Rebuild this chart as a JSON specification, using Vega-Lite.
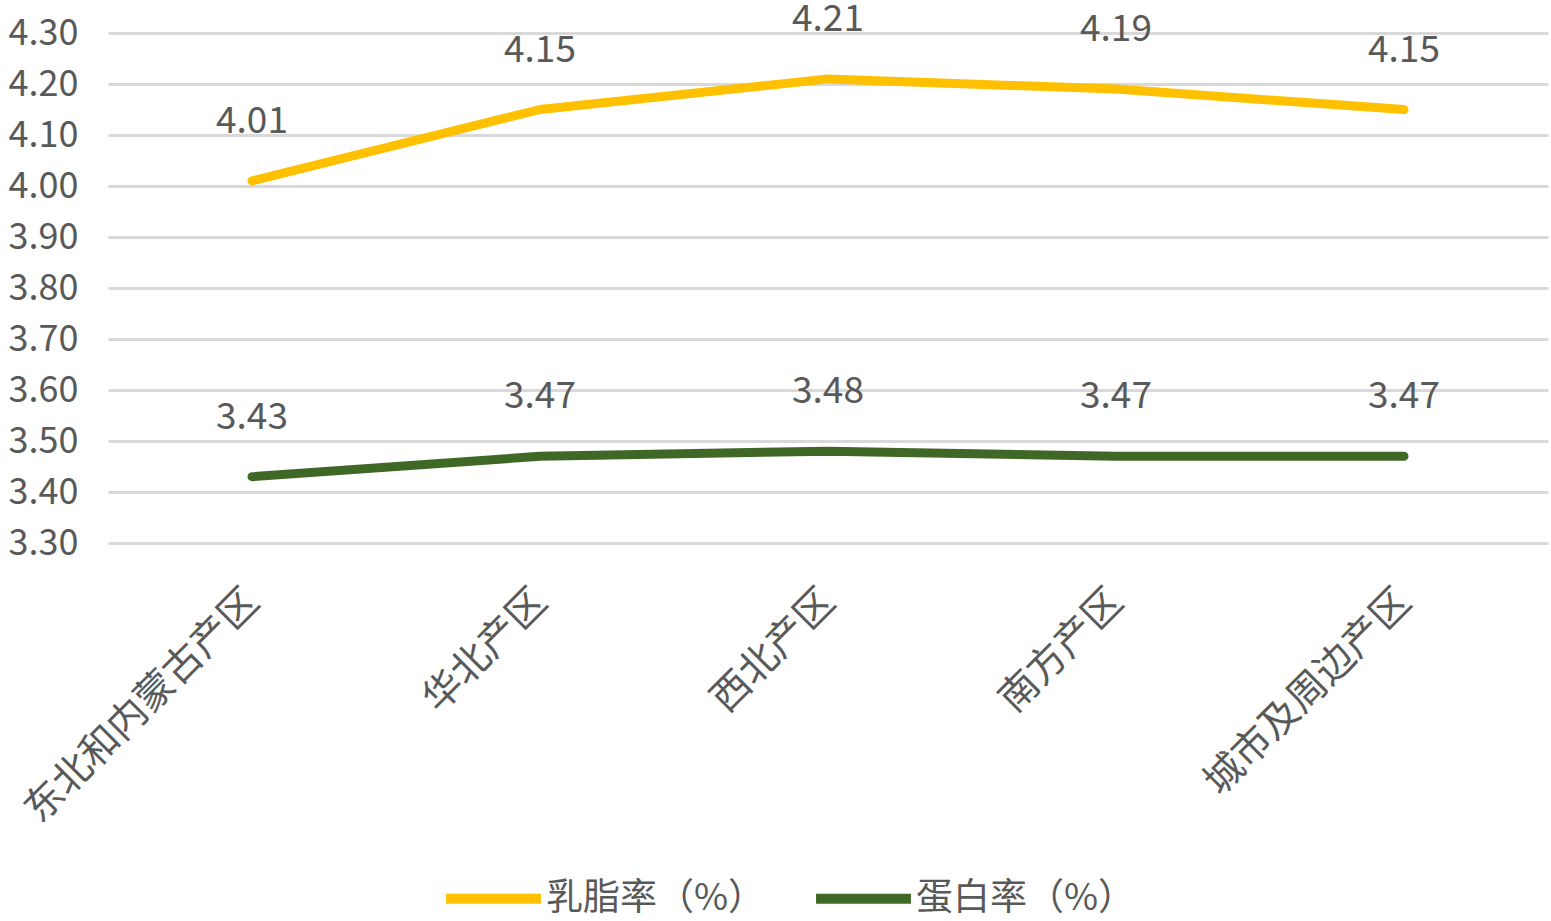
{
  "$schema": "https://vega.github.io/schema/vega-lite/v6.json",
  "width": 1440,
  "height": 510,
  "autosize": {"type": "none"},
  "padding": {"left": 108, "top": 33, "right": 3, "bottom": 378},
  "background": "white",
  "config": {
    "view": {"stroke": null},
    "font": "Noto Sans CJK SC"
  },
  "data": {
    "values": [
      {"region": "东北和内蒙古产区", "metric": "乳脂率（%）", "value": 4.01},
      {"region": "华北产区", "metric": "乳脂率（%）", "value": 4.15},
      {"region": "西北产区", "metric": "乳脂率（%）", "value": 4.21},
      {"region": "南方产区", "metric": "乳脂率（%）", "value": 4.19},
      {"region": "城市及周边产区", "metric": "乳脂率（%）", "value": 4.15},
      {"region": "东北和内蒙古产区", "metric": "蛋白率（%）", "value": 3.43},
      {"region": "华北产区", "metric": "蛋白率（%）", "value": 3.47},
      {"region": "西北产区", "metric": "蛋白率（%）", "value": 3.48},
      {"region": "南方产区", "metric": "蛋白率（%）", "value": 3.47},
      {"region": "城市及周边产区", "metric": "蛋白率（%）", "value": 3.47}
    ]
  },
  "encoding": {
    "x": {
      "field": "region",
      "type": "nominal",
      "sort": ["东北和内蒙古产区", "华北产区", "西北产区", "南方产区", "城市及周边产区"],
      "scale": {"type": "point", "padding": 0.5},
      "axis": {
        "title": null,
        "domain": false,
        "ticks": false,
        "labelAngle": -45,
        "labelAlign": "right",
        "labelBaseline": "middle",
        "labelPadding": 52,
        "labelFontSize": 39,
        "labelLimit": 0,
        "labelColor": "#595959",
        "labelFont": "Noto Sans CJK SC"
      }
    },
    "y": {
      "field": "value",
      "type": "quantitative",
      "scale": {"domain": [3.3, 4.3], "nice": false, "zero": false},
      "axis": {
        "title": null,
        "domain": false,
        "ticks": false,
        "values": [3.3, 3.4, 3.5, 3.6, 3.7, 3.8, 3.9, 4.0, 4.1, 4.2, 4.3],
        "format": ".2f",
        "labelFontSize": 36,
        "labelColor": "#595959",
        "labelPadding": 30,
        "gridColor": "#D9D9D9",
        "gridWidth": 3
      }
    }
  },
  "layer": [
    {
      "mark": {"type": "line", "strokeWidth": 9, "strokeCap": "round", "strokeJoin": "round"},
      "encoding": {
        "color": {
          "field": "metric",
          "type": "nominal",
          "scale": {"domain": ["乳脂率（%）", "蛋白率（%）"], "range": ["#FFC000", "#3F6826"]},
          "legend": {
            "title": null,
            "orient": "none",
            "direction": "horizontal",
            "legendX": 333,
            "legendY": 813,
            "symbolType": "stroke",
            "symbolSize": 9000,
            "symbolStrokeWidth": 10,
            "labelFontSize": 37,
            "labelLimit": 0,
            "labelColor": "#595959",
            "labelOffset": 0,
            "columnPadding": 30
          }
        }
      }
    },
    {
      "mark": {"type": "text", "dy": -59, "fontSize": 37, "color": "#595959", "baseline": "middle", "align": "center"},
      "encoding": {
        "text": {"field": "value", "type": "quantitative", "format": ".2f"},
        "detail": {"field": "metric", "type": "nominal"}
      }
    }
  ]
}
